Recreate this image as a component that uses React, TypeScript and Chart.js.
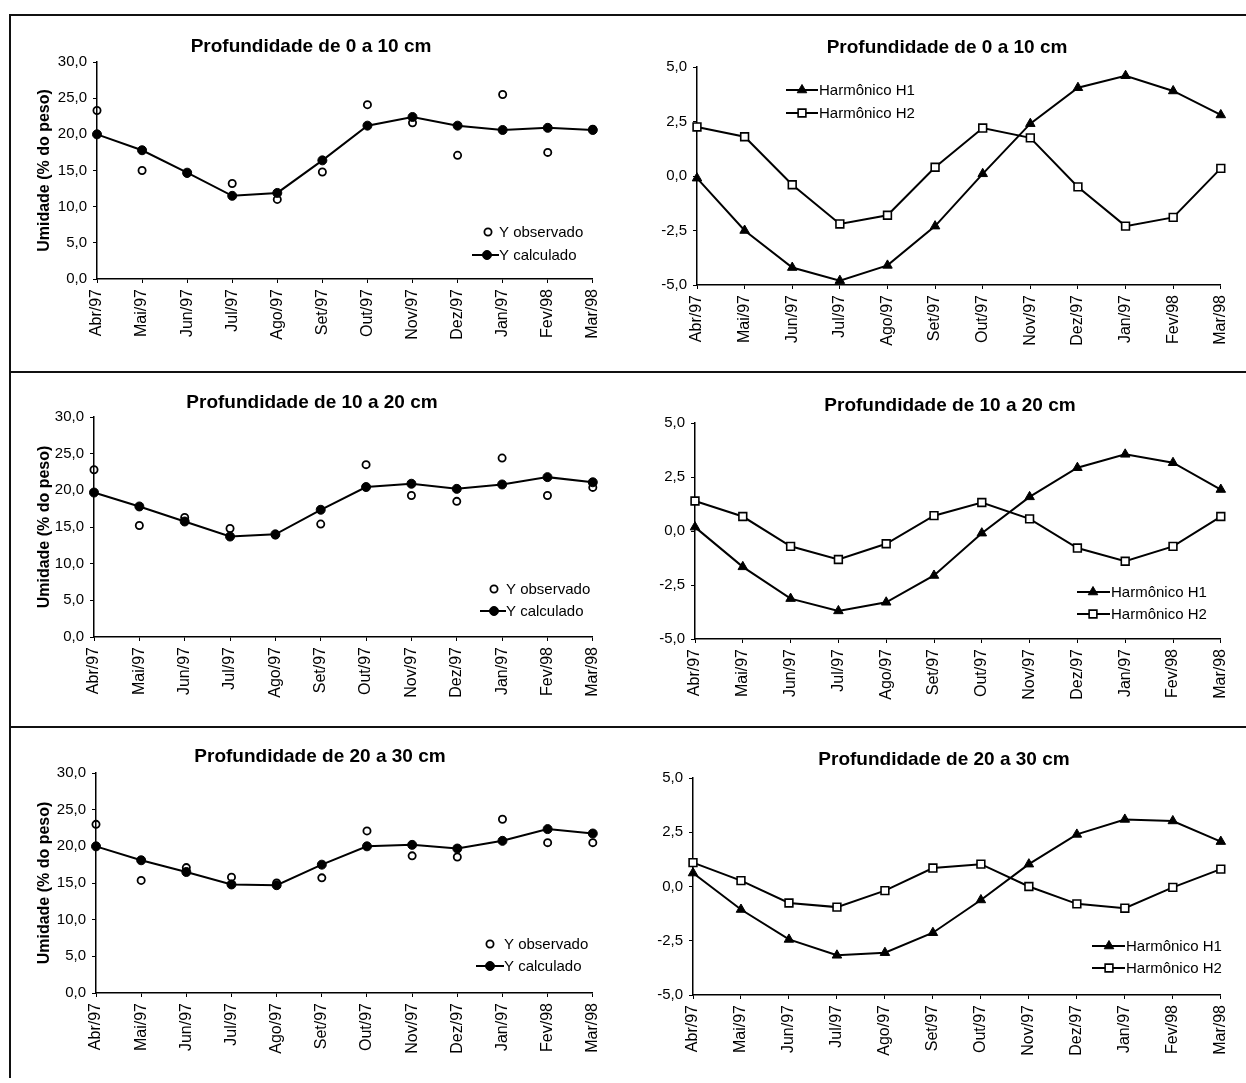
import React, { useEffect, useRef } from 'react';
import { Chart, registerables } from 'chart.js';

Chart.register(...registerables);

const FONT = '"Liberation Sans", Arial, Helvetica, sans-serif';

const months = ['Abr/97', 'Mai/97', 'Jun/97', 'Jul/97', 'Ago/97', 'Set/97', 'Out/97', 'Nov/97', 'Dez/97', 'Jan/97', 'Fev/98', 'Mar/98'];

const umidadeRange = [0, 30, 5];
const harmonicoRange = [-5, 5, 2.5];

// Profundidade de 0 a 10 cm
const obs0a10 = [23.3, 15.0, 14.6, 13.2, 11.0, 14.8, 24.1, 21.6, 17.1, 25.5, 17.5, 20.7];
const calc0a10 = [20.0, 17.8, 14.7, 11.5, 11.9, 16.4, 21.2, 22.4, 21.2, 20.6, 20.9, 20.6];
const h1_0a10 = [-0.1, -2.5, -4.2, -4.8, -4.1, -2.3, 0.1, 2.4, 4.05, 4.6, 3.9, 2.8];
const h2_0a10 = [2.25, 1.8, -0.4, -2.2, -1.8, 0.4, 2.2, 1.75, -0.5, -2.3, -1.9, 0.35];

// Profundidade de 10 a 20 cm
const obs10a20 = [22.8, 15.2, 16.3, 14.8, 13.9, 15.4, 23.5, 19.3, 18.5, 24.4, 19.3, 20.4];
const calc10a20 = [19.7, 17.8, 15.75, 13.7, 14.0, 17.35, 20.45, 20.9, 20.2, 20.8, 21.8, 21.1];
const h1_10a20 = [0.18, -1.66, -3.13, -3.7, -3.3, -2.06, -0.1, 1.58, 2.93, 3.55, 3.16, 1.92];
const h2_10a20 = [1.39, 0.67, -0.71, -1.32, -0.59, 0.71, 1.32, 0.56, -0.79, -1.4, -0.71, 0.67];

// Profundidade de 20 a 30 cm
const obs20a30 = [23.0, 15.35, 17.1, 15.8, 15.0, 15.7, 22.1, 18.7, 18.55, 23.7, 20.5, 20.5];
const calc20a30 = [20.0, 18.1, 16.5, 14.8, 14.7, 17.5, 20.0, 20.2, 19.7, 20.75, 22.35, 21.75];
const h1_20a30 = [0.62, -1.06, -2.44, -3.17, -3.05, -2.13, -0.62, 1.03, 2.4, 3.09, 3.02, 2.07];
const h2_20a30 = [1.1, 0.27, -0.76, -0.95, -0.19, 0.85, 1.03, 0.0, -0.8, -1.0, -0.04, 0.8];

type LegendItem = { y: number; marker: number; text: number; line: number[] | null };
type PanelSpec = {
  L: number; T: number; W: number; H: number;
  area: number[];
  kind: 'umid' | 'harm';
  title: string;
  titlePos: number[];
  series: number[][];
  legend: LegendItem[];
};

const panels: PanelSpec[] = [
  {
    L: 12, T: 17, W: 606, H: 353, area: [97, 600, 62, 279], kind: 'umid',
    title: 'Profundidade de 0 a 10 cm', titlePos: [311, 47], series: [obs0a10, calc0a10],
    legend: [
      { y: 232, marker: 488, text: 499, line: null },
      { y: 255, marker: 487, text: 499, line: [472, 499] },
    ],
  },
  {
    L: 622, T: 17, W: 624, H: 353, area: [697, 1222, 67, 285], kind: 'harm',
    title: 'Profundidade de 0 a 10 cm', titlePos: [947, 48], series: [h1_0a10, h2_0a10],
    legend: [
      { y: 90, marker: 802, text: 819, line: [786, 818] },
      { y: 113, marker: 802, text: 819, line: [786, 818] },
    ],
  },
  {
    L: 12, T: 374, W: 606, H: 351, area: [94, 599, 417, 637], kind: 'umid',
    title: 'Profundidade de 10 a 20 cm', titlePos: [312, 403], series: [obs10a20, calc10a20],
    legend: [
      { y: 589, marker: 494, text: 506, line: null },
      { y: 611, marker: 494, text: 506, line: [480, 506] },
    ],
  },
  {
    L: 622, T: 374, W: 624, H: 351, area: [695, 1222, 423, 639], kind: 'harm',
    title: 'Profundidade de 10 a 20 cm', titlePos: [950, 406], series: [h1_10a20, h2_10a20],
    legend: [
      { y: 592, marker: 1093, text: 1111, line: [1077, 1110] },
      { y: 614, marker: 1093, text: 1111, line: [1077, 1110] },
    ],
  },
  {
    L: 12, T: 729, W: 606, H: 352, area: [96, 598, 773, 993], kind: 'umid',
    title: 'Profundidade de 20 a 30 cm', titlePos: [320, 757], series: [obs20a30, calc20a30],
    legend: [
      { y: 944, marker: 490, text: 504, line: null },
      { y: 966, marker: 490, text: 504, line: [476, 504] },
    ],
  },
  {
    L: 622, T: 729, W: 624, H: 352, area: [693, 1222, 778, 995], kind: 'harm',
    title: 'Profundidade de 20 a 30 cm', titlePos: [944, 760], series: [h1_20a30, h2_20a30],
    legend: [
      { y: 946, marker: 1109, text: 1126, line: [1092, 1125] },
      { y: 968, marker: 1109, text: 1126, line: [1092, 1125] },
    ],
  },
];

function drawMarker(ctx: CanvasRenderingContext2D, style: string, r: number, fill: string, stroke: string, bw: number, x: number, y: number) {
  ctx.save();
  ctx.beginPath();
  if (style === 'triangle') {
    let rad = 0;
    ctx.moveTo(x + Math.sin(rad) * r, y - Math.cos(rad) * r);
    rad += (2 * Math.PI) / 3;
    ctx.lineTo(x + Math.sin(rad) * r, y - Math.cos(rad) * r);
    rad += (2 * Math.PI) / 3;
    ctx.lineTo(x + Math.sin(rad) * r, y - Math.cos(rad) * r);
    ctx.closePath();
  } else if (style === 'rect') {
    const s = r * Math.SQRT1_2;
    ctx.rect(x - s, y - s, 2 * s, 2 * s);
  } else {
    ctx.arc(x, y, r, 0, Math.PI * 2);
  }
  ctx.fillStyle = fill;
  ctx.fill();
  ctx.lineWidth = bw;
  ctx.strokeStyle = stroke;
  ctx.stroke();
  ctx.restore();
}

const decorPlugin = {
  id: 'panelDecor',
  afterDraw(chart: any, _args: any, opts: any) {
    const ctx: CanvasRenderingContext2D = chart.ctx;
    ctx.save();
    ctx.fillStyle = '#000';
    ctx.textAlign = 'center';
    ctx.textBaseline = 'middle';
    ctx.font = `bold 19px ${FONT}`;
    ctx.fillText(opts.title, opts.titlePos[0] - opts.L, opts.titlePos[1] - opts.T);
    ctx.font = `15px ${FONT}`;
    ctx.textAlign = 'left';
    (opts.legend as LegendItem[]).forEach((item, i) => {
      const ds = chart.data.datasets[i];
      const y = item.y - opts.T;
      if (item.line) {
        ctx.beginPath();
        ctx.strokeStyle = ds.borderColor;
        ctx.lineWidth = ds.borderWidth;
        ctx.moveTo(item.line[0] - opts.L, y);
        ctx.lineTo(item.line[1] - opts.L, y);
        ctx.stroke();
      }
      drawMarker(ctx, ds.pointStyle, ds.pointRadius, ds.pointBackgroundColor, ds.pointBorderColor, ds.pointBorderWidth, item.marker - opts.L, y);
      ctx.fillStyle = '#000';
      ctx.fillText(ds.label, item.text - opts.L, y + 0.5);
    });
    ctx.restore();
  },
};

function fmt(v: number) {
  return v.toFixed(1).replace('.', ',');
}

function PanelChart({ spec }: { spec: PanelSpec }) {
  const ref = useRef<HTMLCanvasElement>(null);
  useEffect(() => {
    const canvas = ref.current;
    if (!canvas) return;
    const { L, T, W, H, area, kind } = spec;
    const x0 = area[0] - L;
    const x1 = area[1] - L;
    const y0 = area[2] - T;
    const y1 = area[3] - T;
    const range = kind === 'umid' ? umidadeRange : harmonicoRange;

    const datasets: any[] = kind === 'umid'
      ? [
          {
            label: 'Y observado', data: spec.series[0], showLine: false,
            pointStyle: 'circle', pointRadius: 3.6, pointBorderWidth: 1.8,
            pointBackgroundColor: 'rgba(255,255,255,0)', pointBorderColor: '#000',
            borderColor: '#000', borderWidth: 0, backgroundColor: 'rgba(0,0,0,0)', clip: false,
          },
          {
            label: 'Y calculado', data: spec.series[1], borderColor: '#000', borderWidth: 2,
            pointStyle: 'circle', pointRadius: 4.5, pointBackgroundColor: '#000', pointBorderColor: '#000',
            pointBorderWidth: 1, tension: 0, fill: false, clip: false,
          },
        ]
      : [
          {
            label: 'Harmônico H1', data: spec.series[0], borderColor: '#000', borderWidth: 2,
            pointStyle: 'triangle', pointRadius: 5.5, pointBackgroundColor: '#000', pointBorderColor: '#000',
            pointBorderWidth: 1, tension: 0, fill: false, clip: false,
          },
          {
            label: 'Harmônico H2', data: spec.series[1], borderColor: '#000', borderWidth: 2,
            pointStyle: 'rect', pointRadius: 5.5, pointBackgroundColor: '#fff', pointBorderColor: '#000',
            pointBorderWidth: 1.6, tension: 0, fill: false, clip: false,
          },
        ];

    const chart = new Chart(canvas, {
      type: 'line',
      data: { labels: months, datasets },
      options: {
        responsive: false,
        animation: false,
        devicePixelRatio: 1,
        events: [],
        layout: { padding: { left: 0, top: y0, right: W - x1, bottom: 0 } },
        plugins: {
          legend: { display: false },
          tooltip: { enabled: false },
          title: { display: false },
          panelDecor: { title: spec.title, titlePos: spec.titlePos, legend: spec.legend, L, T },
        } as any,
        scales: {
          x: {
            type: 'category',
            offset: false,
            grid: { display: true, drawOnChartArea: false, drawTicks: true, tickLength: 4, color: '#000', lineWidth: 1 },
            border: { display: true, color: '#000', width: 1.5 },
            ticks: {
              autoSkip: false, minRotation: 90, maxRotation: 90, padding: 6, color: '#000',
              font: { family: FONT, size: 16 },
            },
            afterFit: (s: any) => { s.height = H - y1; },
          },
          y: {
            min: range[0],
            max: range[1],
            grid: { display: true, drawOnChartArea: false, drawTicks: true, tickLength: 4, color: '#000', lineWidth: 1 },
            border: { display: true, color: '#000', width: 1.5 },
            ticks: {
              stepSize: range[2], padding: 6, color: '#000',
              font: { family: FONT, size: 15 },
              callback: (v: any) => fmt(Number(v)),
            },
            title: {
              display: kind === 'umid',
              text: 'Umidade (% do peso)',
              color: '#000',
              font: { family: FONT, size: 16, weight: 'bold' },
              padding: { top: 23, bottom: 0 },
            },
            afterFit: (s: any) => { s.width = x0; },
          },
        },
      } as any,
      plugins: [decorPlugin],
    });
    return () => chart.destroy();
  }, [spec]);

  return (
    <canvas
      ref={ref}
      width={spec.W}
      height={spec.H}
      style={{ position: 'absolute', left: spec.L, top: spec.T, width: spec.W, height: spec.H }}
    />
  );
}

const lineStyle = (left: number, top: number, width: number, height: number): React.CSSProperties => ({
  position: 'absolute', left, top, width, height, background: '#111',
});

export default function App() {
  return (
    <div style={{ position: 'absolute', left: 0, top: 0, width: 1246, height: 1083, background: '#fff', overflow: 'hidden' }}>
      <div style={lineStyle(10, 14, 1236, 2)} />
      <div style={lineStyle(10, 371, 1236, 2)} />
      <div style={lineStyle(10, 726, 1236, 2)} />
      <div style={lineStyle(9, 14, 2, 1064)} />
      {panels.map((p, i) => (
        <PanelChart key={i} spec={p} />
      ))}
    </div>
  );
}
